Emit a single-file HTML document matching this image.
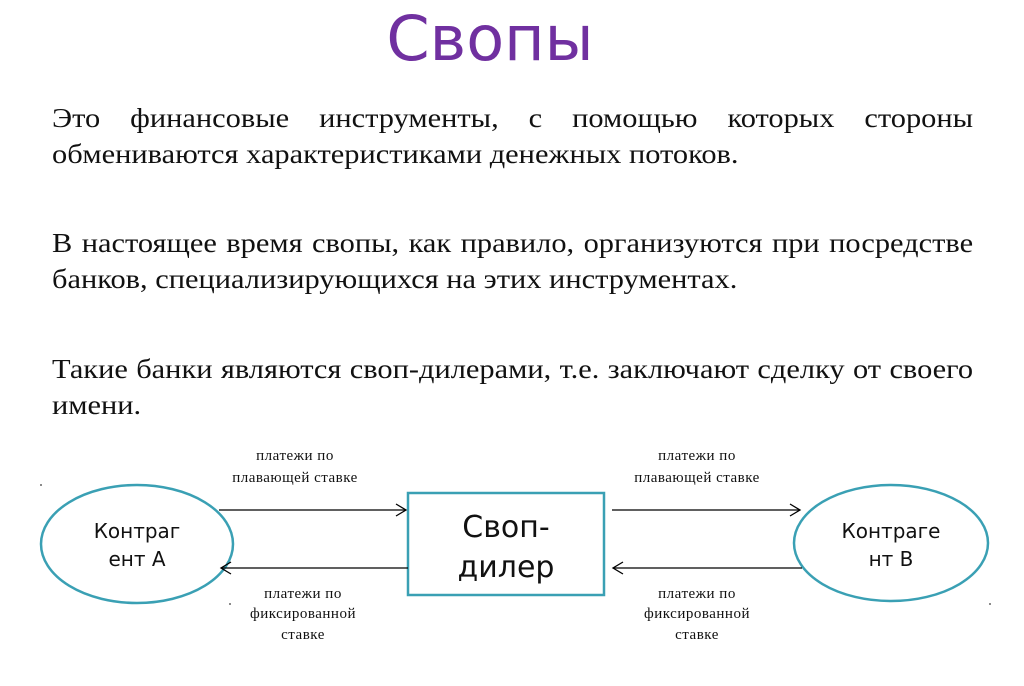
<!DOCTYPE html>
<html><head><meta charset="utf-8"><style>
body{margin:0;width:1024px;height:686px;background:#fff;overflow:hidden;position:relative;font-family:"Liberation Serif",serif}
.t{position:absolute;left:0;width:980px;top:2px;text-align:center;font-family:"DejaVu Sans",sans-serif;font-size:62px;color:#7030a0}
.p{position:absolute;left:52px;width:818px;font-size:27px;line-height:36px;text-align:justify;text-align-last:left;color:#111;transform:scaleX(1.126);transform-origin:0 0}
</style></head><body>
<div class="t">Свопы</div>
<div class="p" style="top:100px">Это финансовые инструменты, с помощью которых стороны обмениваются характеристиками денежных потоков.</div>
<div class="p" style="top:225px">В настоящее время свопы, как правило, организуются при посредстве банков, специализирующихся на этих инструментах.</div>
<div class="p" style="top:351px">Такие банки являются своп-дилерами, т.е. заключают сделку от своего имени.</div>
<svg width="1024" height="686" style="position:absolute;left:0;top:0">
<g fill="none" stroke-width="2.5" stroke="#3aa0b4">
<ellipse cx="137" cy="544" rx="96" ry="59"/>
<ellipse cx="891" cy="543" rx="97" ry="58"/>
<rect x="408" y="493" width="196" height="102"/>
</g>
<g stroke="#000" stroke-width="1.3" fill="none">
<line x1="219" y1="510" x2="406" y2="510"/><polyline points="396,504 406,510 396,516"/>
<line x1="222" y1="568" x2="408" y2="568"/><polyline points="231,562 221,568 231,574"/>
<line x1="612" y1="510" x2="800" y2="510"/><polyline points="790,504 800,510 790,516"/>
<line x1="614" y1="568" x2="802" y2="568"/><polyline points="623,562 613,568 623,574"/>
</g>
<g font-family="DejaVu Sans,sans-serif" text-anchor="middle" fill="#111">
<text x="137" y="538" font-size="20">Контраг</text><text x="137" y="566" font-size="20">ент А</text>
<text x="891" y="538" font-size="20">Контраге</text><text x="891" y="566" font-size="20">нт В</text>
<text x="506" y="537" font-size="30">Своп-</text><text x="506" y="577" font-size="30">дилер</text>
</g>
<g font-family="Liberation Serif,serif" font-size="15" letter-spacing="0.5" text-anchor="middle" fill="#111">
<text x="295" y="460">платежи по</text><text x="295" y="482">плавающей ставке</text>
<text x="697" y="460">платежи по</text><text x="697" y="482">плавающей ставке</text>
<text x="303" y="598">платежи по</text><text x="303" y="618">фиксированной</text><text x="303" y="639">ставке</text>
<text x="697" y="598">платежи по</text><text x="697" y="618">фиксированной</text><text x="697" y="639">ставке</text>
</g>
<g fill="#666"><circle cx="41" cy="485" r="1"/><circle cx="230" cy="604" r="1"/><circle cx="990" cy="604" r="1"/></g>
</svg>
</body></html>
